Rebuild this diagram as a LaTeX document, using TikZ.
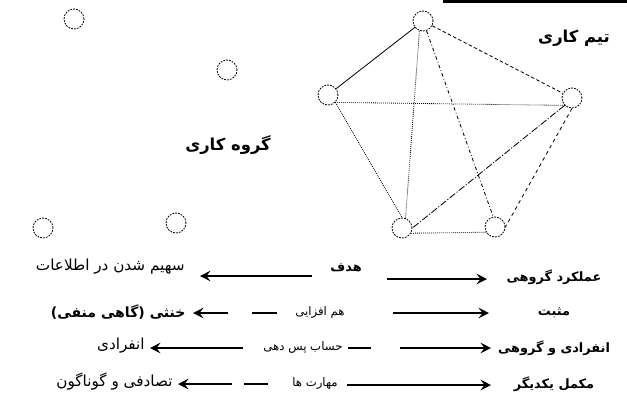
\documentclass[tikz,border=0pt]{standalone}
\usepackage{fontspec}
\usetikzlibrary{arrows.meta}
\TeXXeTstate=1
\newfontfamily\fa[Script=Arabic]{DejaVu Sans}
\tikzset{
  fatext/.style={font=\fa\fontsize{10}{12}\selectfont, inner sep=1pt},
  fabig/.style={font=\fa\fontsize{13}{15}\selectfont, inner sep=1pt},
  fabold/.style={font=\fa\bfseries\fontsize{11}{13}\selectfont, inner sep=1pt},
  title/.style={font=\fa\bfseries\fontsize{14}{16}\selectfont, inner sep=1pt},
  member/.style={circle, draw, dash pattern=on 1.5pt off 1pt, line width=0.7pt, minimum size=0.6cm, inner sep=0pt},
  arr/.style={line width=1.2pt, -{Stealth[length=9pt,width=9pt,inset=3.5pt]}},
  seg/.style={line width=1.2pt},
  link/.style={line width=0.7pt}
}
\begin{document}
\begin{tikzpicture}[x=0.03cm,y=-0.03cm]
\useasboundingbox (0,0) rectangle (627,407);
% top bar
\fill (443,0) rectangle (627,3);

% group (isolated members)
\node[member] (g1) at (74,19) {};
\node[member] (g2) at (227,70) {};
\node[member] (g3) at (43,228) {};
\node[member] (g4) at (176,223) {};
\node[title] (gt) at (228,145) {\beginR گروه کاری\endR};

% team (connected members)
\node[member] (T) at (423,21) {};
\node[member] (L) at (328,95) {};
\node[member] (R) at (572,98) {};
\node[member] (BL) at (402,228) {};
\node[member] (BR) at (495,227) {};
\node[title] (tt) at (574,38) {\beginR تیم کاری\endR};

\draw[link] (T) -- (L);
\draw[link, densely dashed] (T) -- (R);
\draw[link, densely dotted] (L.south east) -- (R.south west);
\draw[link, densely dotted] (T.250) -- (BL.70);
\draw[link, dash dot] (T.290) -- (BR.100);
\draw[link, densely dotted] (L.south east) -- (BL.north);
\draw[link, dash pattern=on 6pt off 1.5pt on 1pt off 1.5pt] (R.south west) -- (BL.east);
\draw[link, dashed] (R.south) -- (BR.east);
\draw[link, densely dotted] (BL.-30) -- (BR.210);

% row 1
\node[fabig, anchor=east] (l1) at (186,267) {\beginR سهیم شدن در اطلاعات\endR};
\node[fatext, font=\fa\bfseries\fontsize{11}{13}\selectfont] (m1) at (346,268) {\beginR هدف\endR};
\node[fabold] (r1) at (554,277) {\beginR عملکرد گروهی\endR};
\coordinate (a1s) at (312,276); \coordinate (a1e) at (200,276);
\coordinate (b1s) at (387,279); \coordinate (b1e) at (487,279);
\draw[arr] (a1s) -- (a1e);
\draw[arr] (b1s) -- (b1e);

% row 2
\node[fabold, font=\fa\bfseries\fontsize{12}{14}\selectfont, anchor=east] (l2) at (187,312)
  {\beginR خنثی (گاهی منفی)\endR};
\node[fatext] (m2) at (320,312) {\beginR هم افزایی\endR};
\node[fabold] (r2) at (554,313) {\beginR مثبت\endR};
\coordinate (a2s) at (228,313); \coordinate (a2e) at (193,313);
\coordinate (c2s) at (252,313); \coordinate (c2e) at (277,313);
\coordinate (b2s) at (393,313); \coordinate (b2e) at (489,313);
\draw[arr] (a2s) -- (a2e);
\draw[seg] (c2s) -- (c2e);
\draw[arr] (b2s) -- (b2e);

% row 3
\node[fabig, anchor=east] (l3) at (146,346) {\beginR انفرادی\endR};
\node[fatext] (m3) at (303,347) {\beginR حساب پس دهی\endR};
\node[fabold] (r3) at (554,348) {\beginR انفرادی و گروهی\endR};
\coordinate (a3s) at (243,348); \coordinate (a3e) at (150,348);
\coordinate (c3s) at (348,348); \coordinate (c3e) at (371,348);
\coordinate (b3s) at (400,348); \coordinate (b3e) at (491,348);
\draw[arr] (a3s) -- (a3e);
\draw[seg] (c3s) -- (c3e);
\draw[arr] (b3s) -- (b3e);

% row 4
\node[fabig, anchor=east] (l4) at (174,382) {\beginR تصادفی و گوناگون\endR};
\node[fatext] (m4) at (315,383) {\beginR مهارت ها\endR};
\node[fabold] (r4) at (554,384) {\beginR مکمل یکدیگر\endR};
\coordinate (a4s) at (232,384); \coordinate (a4e) at (178,384);
\coordinate (c4s) at (244,384); \coordinate (c4e) at (268,384);
\coordinate (b4s) at (347,385); \coordinate (b4e) at (491,385);
\draw[arr] (a4s) -- (a4e);
\draw[seg] (c4s) -- (c4e);
\draw[arr] (b4s) -- (b4e);
\end{tikzpicture}
\end{document}
